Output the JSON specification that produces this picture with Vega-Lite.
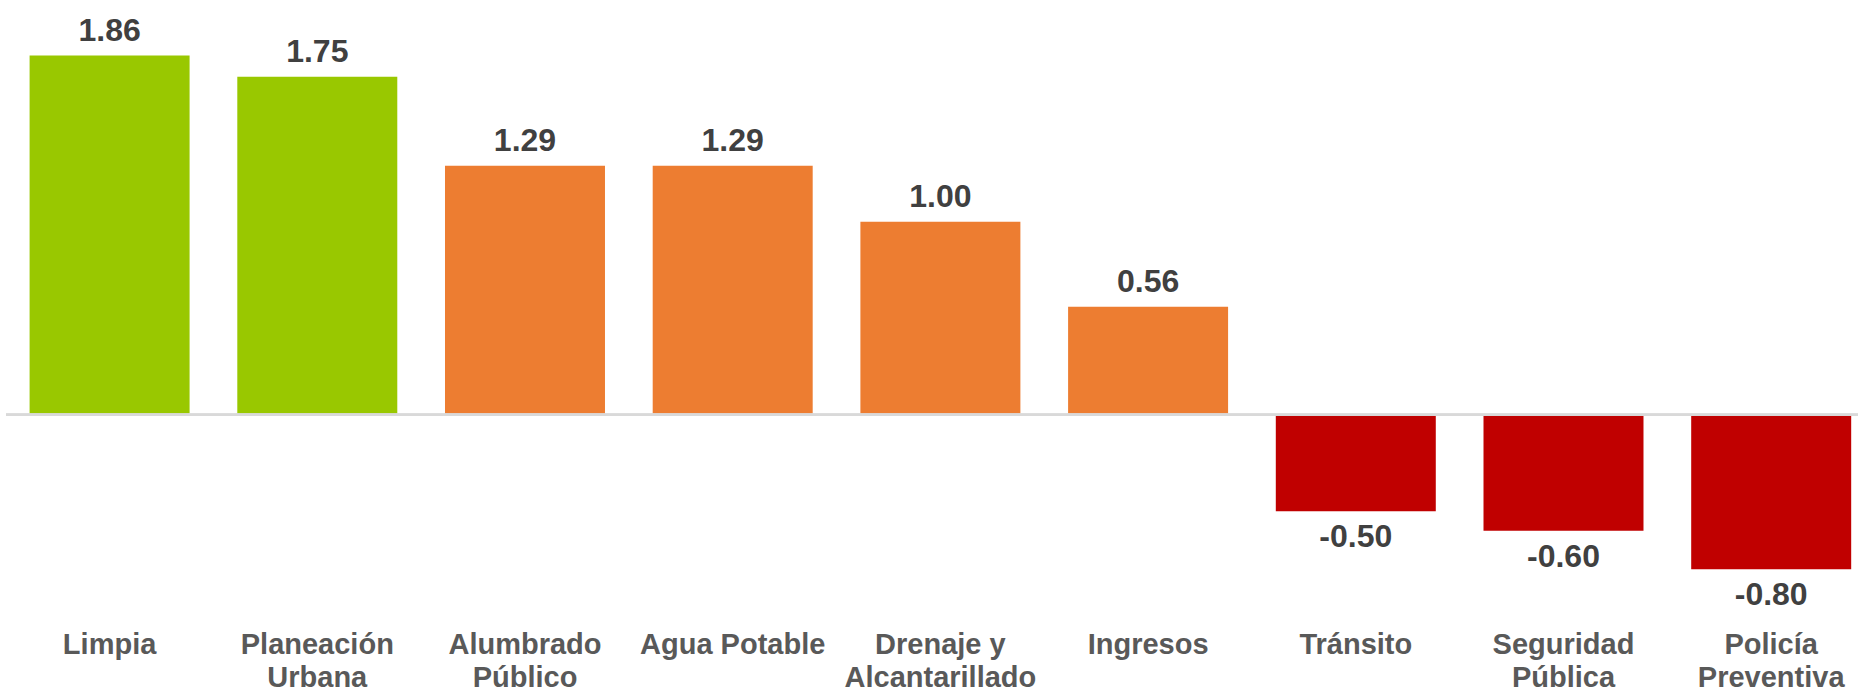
{
  "$schema": "https://vega.github.io/schema/vega-lite/v6.json",
  "width": 1852,
  "height": 600,
  "autosize": {"type": "none"},
  "padding": {"left": 6, "top": 0, "right": 0, "bottom": 91},
  "background": "white",
  "config": {"view": {"stroke": null}},
  "data": {
    "values": [
      {"cat": "Limpia", "value": 1.86, "group": "alto"},
      {"cat": "Planeación\nUrbana", "value": 1.75, "group": "alto"},
      {"cat": "Alumbrado\nPúblico", "value": 1.29, "group": "medio"},
      {"cat": "Agua Potable", "value": 1.29, "group": "medio"},
      {"cat": "Drenaje y\nAlcantarillado", "value": 1.0, "group": "medio"},
      {"cat": "Ingresos", "value": 0.56, "group": "medio"},
      {"cat": "Tránsito", "value": -0.5, "group": "bajo"},
      {"cat": "Seguridad\nPública", "value": -0.6, "group": "bajo"},
      {"cat": "Policía\nPreventiva", "value": -0.8, "group": "bajo"}
    ]
  },
  "transform": [
    {"calculate": "replace(format(datum.value, '.2f'), '\u2212', '-')", "as": "label"}
  ],
  "encoding": {
    "x": {
      "field": "cat",
      "type": "nominal",
      "sort": null,
      "scale": {"paddingInner": 0.2297, "paddingOuter": 0.0732, "align": 0.776},
      "axis": {
        "title": null,
        "domain": false,
        "ticks": false,
        "tickSize": 0,
        "labelAngle": 0,
        "labelPadding": 53,
        "labelBaseline": "alphabetic",
        "labelLineHeight": 33,
        "labelLimit": 0,
        "labelFont": "Liberation Sans",
        "labelFontWeight": "bold",
        "labelFontSize": 29,
        "labelColor": "#595959",
        "labelExpr": "split(datum.label, '\\n')"
      }
    },
    "y": {
      "field": "value",
      "type": "quantitative",
      "scale": {"domain": [-0.959, 2.148], "nice": false, "zero": false},
      "axis": null
    }
  },
  "layer": [
    {
      "mark": {"type": "bar"},
      "encoding": {
        "color": {
          "field": "group",
          "type": "nominal",
          "scale": {"domain": ["alto", "medio", "bajo"], "range": ["#99c800", "#ed7d31", "#c00000"]},
          "legend": null
        }
      }
    },
    {
      "mark": {"type": "rule", "color": "#d9d9d9", "strokeWidth": 2},
      "encoding": {"y": {"datum": 0}, "x": null}
    },
    {
      "transform": [{"filter": "datum.value >= 0"}],
      "mark": {"type": "text", "baseline": "alphabetic", "dy": -15, "font": "Liberation Sans", "fontWeight": "bold", "fontSize": 32, "color": "#404040"},
      "encoding": {"text": {"field": "label", "type": "nominal"}}
    },
    {
      "transform": [{"filter": "datum.value < 0"}],
      "mark": {"type": "text", "baseline": "alphabetic", "dy": 36, "font": "Liberation Sans", "fontWeight": "bold", "fontSize": 32, "color": "#404040"},
      "encoding": {"text": {"field": "label", "type": "nominal"}}
    }
  ]
}
